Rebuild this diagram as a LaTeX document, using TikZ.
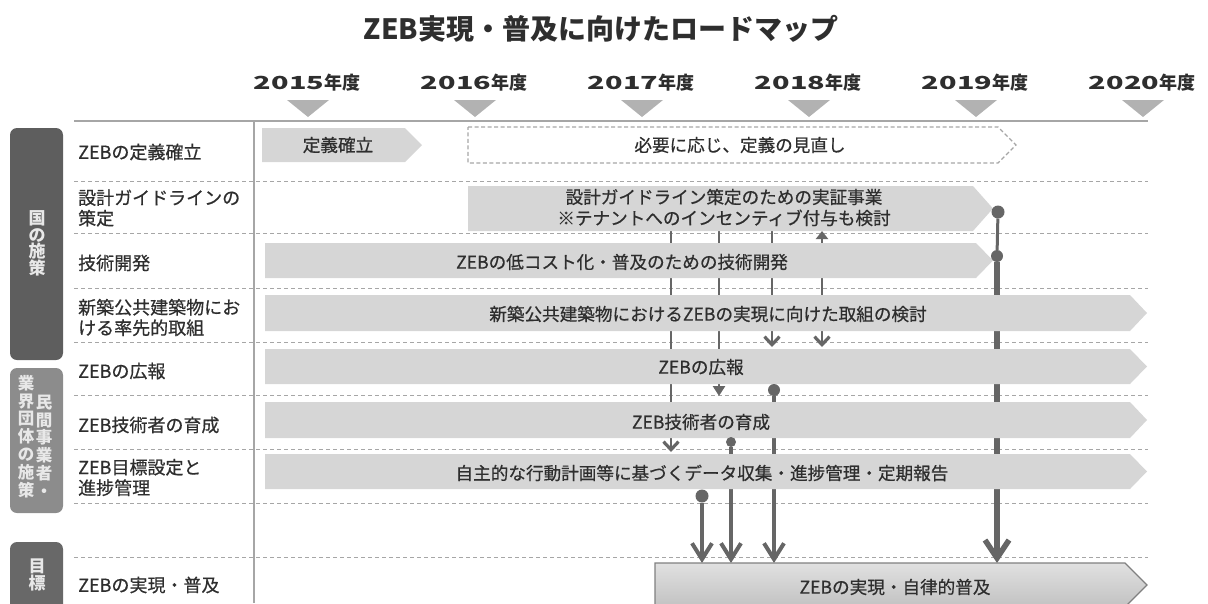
\documentclass[tikz,border=0pt]{standalone}
\usepackage{fontspec}
\setmainfont{Noto Sans CJK JP}
\newfontfamily\medfont{Noto Sans CJK JP}[FakeBold=0.6]
\usepackage{graphicx}
\usetikzlibrary{arrows.meta,calc}
\pgfdeclarelayer{grid}
\pgfdeclarelayer{conn}
\pgfsetlayers{grid,conn,main}
\definecolor{barfill}{HTML}{D6D6D6}
\definecolor{conncol}{HTML}{666666}
\definecolor{gridcol}{HTML}{A6A6A6}
\definecolor{txt}{HTML}{2E2E2E}
\definecolor{boxA}{HTML}{5E5E5E}
\definecolor{boxB}{HTML}{8C8C8C}
\definecolor{boxC}{HTML}{686868}
\definecolor{tri}{HTML}{B2B2B2}
\definecolor{boxtxt}{HTML}{E8E8E8}
\newcommand\barpoly[6]{%
  \node[inner sep=0pt, outer sep=0pt, minimum width=#4pt, minimum height=#5pt] (#1) at (#2,#3) {};
  \fill[barfill] (#1.north west) -- ([xshift=-#6pt]#1.north east) -- (#1.east) -- ([xshift=-#6pt]#1.south east) -- (#1.south west) -- cycle;}
\newcommand\yrlab[1]{\scalebox{1.6}[1]{#1}年度}
\tikzset{
  lab/.style={anchor=west, inner sep=0pt, align=left, text=txt, font=\medfont\fontsize{18}{20.5}\selectfont},
  bt/.style={inner sep=0pt, align=center, text=txt, font=\medfont\fontsize{17.6}{21}\selectfont},
  yr/.style={inner sep=0pt, text=txt, font=\bfseries\fontsize{18}{20}\selectfont},
  sep/.style={gridcol, line width=1pt, dash pattern=on 4pt off 3pt},
  vtxt/.style={inner sep=0pt, align=center, text=boxtxt, font=\bfseries\fontsize{17}{16.5}\selectfont},
  ball/.style={circle, fill=conncol, inner sep=0pt, outer sep=0pt},
  cthin/.style={conncol, line width=2.8pt},
  cthick/.style={conncol, line width=4pt},
  smallv/.style={-{Straight Barb[length=8pt,width=15pt,line width=3.2pt]}},
  bigv/.style={-{Straight Barb[length=16pt,width=20pt]}},
}
\begin{document}
\begin{tikzpicture}[x=1pt,y=-1pt]
\useasboundingbox (0,0) rectangle (1208,603);
% title
\node[inner sep=0pt, text=txt, font=\bfseries\fontsize{28}{32}\selectfont] (title) at (601,29) {ZEB実現・普及に向けたロードマップ};
% years
\foreach \yy [count=\i from 0] in {2015,2016,2017,2018,2019,2020}{
  \node[yr] (y\yy) at ({307+167*\i},83) {\yrlab{\yy}};
  \fill[tri] ({308+167*\i-21},100) -- ({308+167*\i+21},100) -- ({308+167*\i},117) -- cycle;
}
% grid
\begin{pgfonlayer}{grid}
\draw[gridcol, line width=2pt] (74,121) -- (1148,121);
\draw[gridcol, line width=2pt] (254,121) -- (254,603);
\foreach \yy in {181,233,288,342,395,449,503,557}{
  \draw[sep] (74,\yy) -- (1148,\yy);
}
\end{pgfonlayer}
% category boxes
\fill[boxA, rounded corners=7pt] (10,128) rectangle (63,360);
\node[vtxt] (catA) at (37,243.5) {国\\の\\施\\策};
\fill[boxB, rounded corners=7pt] (10,368) rectangle (63,513);
\node[vtxt, font=\bfseries\fontsize{16.5}{17.8}\selectfont] (catB1) at (44,446) {民\\間\\事\\業\\者\\・};
\node[vtxt, font=\bfseries\fontsize{16.5}{17.8}\selectfont] (catB2) at (26,436.5) {業\\界\\団\\体\\の\\施\\策};
\fill[boxC, rounded corners=7pt] (10,542) rectangle (63,615);
\node[vtxt] (catC) at (37,575) {目\\標};
% row labels
\node[lab] (l1) at (78,152) {ZEBの定義確立};
\node[lab] (l2) at (78,208) {設計ガイドラインの\\策定};
\node[lab] (l3) at (78,263) {技術開発};
\node[lab] (l4) at (78,317.5) {新築公共建築物にお\\ける率先的取組};
\node[lab] (l5) at (78,371) {ZEBの広報};
\node[lab] (l6) at (78,425) {ZEB技術者の育成};
\node[lab] (l7) at (78,477.5) {ZEB目標設定と\\進捗管理};
\node[lab] (l8) at (78,585) {ZEBの実現・普及};
% bars
\barpoly{def}{342}{145}{160}{34}{17}
\node[inner sep=0pt, outer sep=0pt, minimum width=548pt, minimum height=36pt] (review) at (742,145) {};
\draw[gridcol, line width=1.3pt, dash pattern=on 4pt off 2.5pt] (review.north west) -- ([xshift=-18pt]review.north east) -- (review.east) -- ([xshift=-18pt]review.south east) -- (review.south west) -- cycle;
\barpoly{design}{730.5}{208.5}{525}{45}{20}
\barpoly{tech}{629}{260.5}{728}{35}{17}
\barpoly{pub}{706}{313}{882}{36}{17}
\barpoly{pr}{706}{366.5}{882}{35}{17}
\barpoly{eng}{706}{420}{882}{36}{17}
\barpoly{self}{706}{471.5}{882}{35}{17}
\node[inner sep=0pt, outer sep=0pt, minimum width=492pt, minimum height=44pt] (goal) at (901,585) {};
\shade[top color=white!88!black, bottom color=white!76!black, draw=white!50!black, line width=1.3pt] (goal.north west) -- ([xshift=-22pt]goal.north east) -- (goal.east) -- ([xshift=-22pt]goal.south east) -- (goal.south west) -- cycle;
% bar texts
\node[bt] (t1) at (338,145) {定義確立};
\node[bt] (t2) at (740,145) {必要に応じ、定義の見直し};
\node[bt] (t3) at (724,207.5) {設計ガイドライン策定のための実証事業\\※テナントへのインセンティブ付与も検討};
\node[bt] (t4) at (622,262) {ZEBの低コスト化・普及のための技術開発};
\node[bt] (t5) at (708,314) {新築公共建築物におけるZEBの実現に向けた取組の検討};
\node[bt] (t6) at (701,367) {ZEBの広報};
\node[bt] (t7) at (701,422) {ZEB技術者の育成};
\node[bt] (t8) at (702,473) {自主的な行動計画等に基づくデータ収集・進捗管理・定期報告};
\node[bt] (t9) at (895,587) {ZEBの実現・自律的普及};
% balls
\node[ball, minimum size=13pt] (bE1) at (998,212) {};
\node[ball, minimum size=12pt] (bE2) at (997,256) {};
\node[ball, minimum size=12pt] (bC) at (774,390) {};
\node[ball, minimum size=10pt] (bF) at (731,442) {};
\node[ball, minimum size=13pt] (bG) at (702,496) {};
\coordinate (xA) at (671,0);
\coordinate (xB) at (719,0);
\coordinate (xC) at (772,0);
\coordinate (xD) at (822,0);
% connectors
\begin{pgfonlayer}{conn}
\draw[cthin, smallv, shorten >=2pt] (design.center -| xA) -- (self.north -| xA);
\draw[cthin, -{Triangle[length=10pt,width=12pt]}, shorten >=6pt] (design.center -| xB) -- (eng.north -| xB);
\draw[cthin, smallv, shorten >=2pt] (design.center -| xC) -- (pr.north -| xC);
\draw[cthin, {Triangle[length=8pt,width=12pt]}-{Straight Barb[length=8pt,width=15pt,line width=3.2pt]}, shorten >=2pt] (design.south -| xD) -- (pr.north -| xD);
\draw[cthick, bigv] (bC) -- (goal.north -| bC);
\draw[cthick, bigv] (bF) -- (goal.north -| bF);
\draw[cthick, bigv] (bG) -- (goal.north -| bG);
\draw[conncol, line width=3pt] (bE1) -- (bE2);
\draw[conncol, line width=5.5pt, -{Straight Barb[length=18pt,width=24pt]}] (bE2) -- (goal.north -| bE2);
\end{pgfonlayer}
\end{tikzpicture}
\end{document}
